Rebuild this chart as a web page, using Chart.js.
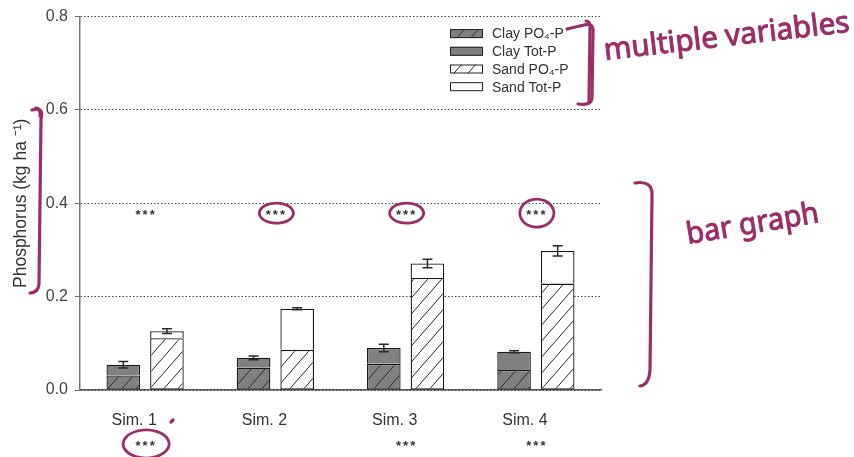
<!DOCTYPE html>
<html>
<head>
<meta charset="utf-8">
<script src="https://cdn.jsdelivr.net/npm/chart.js@4.4.1/dist/chart.umd.min.js"></script>
<style>
  html, body { margin: 0; padding: 0; background: #fff; }
  #wrap { width: 854px; height: 457px; position: relative; }
</style>
</head>
<body>
<div id="wrap"><canvas id="chart"></canvas></div>
<script>
// Values
const categories = ['Sim. 1', 'Sim. 2', 'Sim. 3', 'Sim. 4'];
const clayPO4 = [0.031, 0.048, 0.056, 0.043];
const clayTot = [0.054, 0.069, 0.090, 0.082];
const clayErr = [0.007, 0.004, 0.008, 0.002];
const sandPO4 = [0.111, 0.086, 0.240, 0.228];
const sandTot = [0.126, 0.174, 0.271, 0.298];
const sandErr = [0.005, 0.002, 0.009, 0.011];
const yTicks = [0, 0.2, 0.4, 0.6, 0.8];

// significance marks
const sigTop = ['***', '***', '***', '***'];
const sigBottom = ['***', '', '***', '***'];
const circledTop = [false, true, true, true];
const circledBottom = [true, false, false, false];
const sigTopValue = 0.381;

const FONT = "'Liberation Sans', Arial, sans-serif";
const PURPLE = '#9b2d69';
const GRAY = '#808080';

// Hatch pattern "/" on a base colour
function hatch(base) {
    const c = document.createElement('canvas');
    c.width = 14; c.height = 16;
    const g = c.getContext('2d');
    g.fillStyle = base;
    g.fillRect(0, 0, 14, 16);
    g.strokeStyle = '#2a2a2a';
    g.lineWidth = 1;
    g.beginPath();
    g.moveTo(-1, 17.1); g.lineTo(15, -1.1);
    g.stroke();
    return g.createPattern(c, 'repeat');
}

const clayRest = clayTot.map((t, i) => t - clayPO4[i]);
const sandRest = sandTot.map((t, i) => t - sandPO4[i]);

// Error bars, asterisks, legend, hand annotations
const overlay = {
    id: 'overlay',
    afterDatasetsDraw(chart) {
        const { ctx, scales: { y } } = chart;
        ctx.save();
        ctx.strokeStyle = '#2a2a2a';
        ctx.lineWidth = 1.5;
        [[1, clayTot, clayErr], [3, sandTot, sandErr]].forEach(([di, tot, err]) => {
            chart.getDatasetMeta(di).data.forEach((bar, i) => {
                const yT = y.getPixelForValue(tot[i] + err[i]);
                const yB = y.getPixelForValue(tot[i] - err[i]);
                ctx.beginPath();
                ctx.moveTo(bar.x, yT); ctx.lineTo(bar.x, yB);
                ctx.moveTo(bar.x - 5, yT); ctx.lineTo(bar.x + 5, yT);
                ctx.moveTo(bar.x - 5, yB); ctx.lineTo(bar.x + 5, yB);
                ctx.stroke();
            });
        });
        ctx.restore();
    },
    afterDraw(chart) {
        const { ctx, chartArea, scales: { x, y } } = chart;
        ctx.save();

        // asterisks
        ctx.fillStyle = '#333';
        ctx.font = 'bold 13px ' + FONT;
        ctx.textAlign = 'center';
        ctx.textBaseline = 'middle';
        ctx.letterSpacing = '2px';
        const marks = [];
        categories.forEach((c, i) => {
            const cx = x.getPixelForValue(i) + 1;
            const ty = y.getPixelForValue(sigTopValue);
            const by = chartArea.bottom + 53;
            if (sigTop[i]) { ctx.fillText(sigTop[i], cx, ty + 3); if (circledTop[i]) marks.push([cx, ty, 17, i === 3 ? 14 : 10]); }
            if (sigBottom[i]) { ctx.fillText(sigBottom[i], cx, by + 3); if (circledBottom[i]) marks.push([cx, by, 23, 14]); }
        });
        ctx.letterSpacing = '0px';

        // legend
        const lx = chartArea.right - 151;
        ctx.textAlign = 'left';
        ctx.font = '14px ' + FONT;
        chart.data.datasets.forEach((ds, i) => {
            const cy = chartArea.top + 17 + i * 17.7;
            ctx.fillStyle = ds.backgroundColor;
            ctx.fillRect(lx, cy - 4.5, 33, 9);
            ctx.strokeStyle = '#222';
            ctx.lineWidth = 1;
            ctx.strokeRect(lx + 0.5, cy - 4, 32, 8);
            ctx.fillStyle = '#333';
            ctx.fillText(ds.label, lx + 42, cy + 1);
        });

        // hand annotations
        ctx.strokeStyle = PURPLE;
        ctx.fillStyle = PURPLE;
        ctx.lineCap = 'round';
        ctx.lineJoin = 'round';
        ctx.lineWidth = 3.2;
        [
            'M 32 110 Q 44 106 41 119 L 39 284 Q 38 293 30 293',
            'M 36 108 Q 41 109 40 116',
            'M 567 29 L 584 25 Q 594 22 593 33 L 592 98 Q 591 106 578 104',
            'M 586 21 Q 591 21 590 30 L 589 101',
            'M 635 183 Q 653 180 652 196 L 650 370 Q 649 385 640 386',
            'M 171 422 L 173 420'
        ].forEach(d => ctx.stroke(new Path2D(d)));

        ctx.lineWidth = 2.8;
        marks.forEach(([cx, cy, rx, ry]) => {
            ctx.beginPath();
            ctx.ellipse(cx, cy + 1, rx, ry, 0, -1.9, -1.9 + Math.PI * 2 + 0.35);
            ctx.stroke();
        });

        const hand = (text, x0, y0, angle, width, size) => {
            ctx.save();
            ctx.translate(x0, y0);
            ctx.rotate(angle);
            ctx.font = size + "px 'Noto Sans', sans-serif";
            const w = ctx.measureText(text).width;
            ctx.scale(width / w, 1);
            ctx.textAlign = 'left';
            ctx.textBaseline = 'alphabetic';
            ctx.lineWidth = 1;
            ctx.fillText(text, 0, 0);
            ctx.strokeText(text, 0, 0);
            ctx.restore();
        };
        hand('multiple variables', 605, 60, -0.115, 247, 30);
        hand('bar graph', 688, 244, -0.165, 134, 30);

        ctx.restore();
    }
};

new Chart(document.getElementById('chart'), {
    type: 'bar',
    data: {
        labels: categories,
        datasets: [
            { label: 'Clay PO\u2084-P', data: clayPO4, stack: 'clay', backgroundColor: hatch(GRAY), borderSkipped: false },
            { label: 'Clay Tot-P', data: clayRest, stack: 'clay', backgroundColor: GRAY, borderSkipped: 'bottom' },
            { label: 'Sand PO\u2084-P', data: sandPO4, stack: 'sand', backgroundColor: hatch('#ffffff'), borderSkipped: false },
            { label: 'Sand Tot-P', data: sandRest, stack: 'sand', backgroundColor: '#ffffff', borderSkipped: 'bottom' }
        ]
    },
    options: {
        responsive: true,
        maintainAspectRatio: false,
        animation: false,
        categoryPercentage: 0.67,
        barPercentage: 0.77,
        datasets: { bar: { borderColor: '#1a1a1a', borderWidth: 1.3 } },
        layout: { padding: { top: 16, right: 253, left: 0, bottom: 0 } },
        plugins: { legend: { display: false }, tooltip: { enabled: false } },
        scales: {
            x: {
                stacked: true,
                grid: { display: false, drawTicks: false },
                border: { color: '#555', width: 1.5 },
                ticks: { color: '#333', font: { size: 16, family: FONT }, padding: 21, labelOffset: -11 },
                afterFit(s) { s.height = 67; }
            },
            y: {
                stacked: true,
                min: 0,
                max: 0.8,
                afterBuildTicks(s) { s.ticks = yTicks.map(v => ({ value: v })); },
                grid: { color: '#444', lineWidth: 1, tickColor: '#666', tickLength: 5 },
                border: { color: '#777', width: 1.5, dash: [1.5, 2] },
                ticks: { color: '#444', font: { size: 16, family: FONT }, padding: 7, callback: v => v.toFixed(1) },
                title: { display: true, text: 'Phosphorus (kg ha \u207B\u00B9)', color: '#333', font: { size: 17.5, family: FONT }, padding: { top: 11, bottom: 0 } },
                afterFit(s) { s.width = 80; }
            }
        }
    },
    plugins: [overlay]
});
</script>
</body>
</html>
